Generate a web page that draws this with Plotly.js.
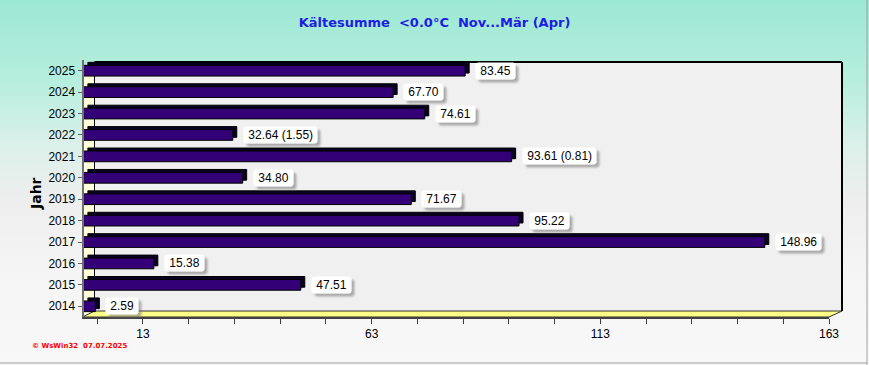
<!DOCTYPE html>
<html>
<head>
<meta charset="utf-8">
<script src="https://cdn.plot.ly/plotly-3.0.1.min.js"></script>
<style>
  html, body { margin: 0; padding: 0; }
  #chart {
    width: 869px; height: 365px;
    background: linear-gradient(to bottom, #9ce8d3 0%, #b6eedd 22%, #dcf0ea 40%, #eeeeee 55%, #f5f5f5 75%, #f8f8f8 100%);
  }
</style>
</head>
<body>
<div id="chart"></div>
<script>
// ---- data ----
const years = ['2014','2015','2016','2017','2018','2019','2020','2021','2022','2023','2024','2025'];
const values = [2.59, 47.51, 15.38, 148.96, 95.22, 71.67, 34.80, 93.61, 32.64, 74.61, 67.70, 83.45];
const valueLabels = ['2.59','47.51','15.38','148.96','95.22','71.67','34.80','93.61 (0.81)','32.64 (1.55)','74.61','67.70','83.45'];
const xTickVals = [3,13,23,33,43,53,63,73,83,93,103,113,123,133,143,153,163];
const xTickText = ['','13','','','','','63','','','','','113','','','','','163'];
const gridVals = [13,63,113];
const chartTitle = 'Kältesumme\u00a0\u00a0<0.0°C\u00a0\u00a0Nov...Mär (Apr)';
const yTitle = 'Jahr';
const footer = '© WsWin32\u00a0\u00a007.07.2025';

// ---- geometry (pixels) ----
const W = 869, H = 365;
const px = x => x / W, py = y => 1 - y / H;
const FX0 = 83.5, FX1 = 829, FY0 = 60, FY1 = 317;   // front plane
const BX0 = 94.5, BX1 = 842, BY0 = 62, BY1 = 311;   // back wall
const DX = 4, DY = 3;                               // bar depth
const xMax = 163;
const pxPerUnit = (FX1 - FX0) / xMax;
const pxPerCat = (FY1 - FY0) / years.length;
const catIdx = years.map((_, i) => i);

const barWidth = 0.5;
const purple = '#330078';

const traces = [
  { // depth (dark block behind face)
    type: 'bar', orientation: 'h', x: values, y: catIdx, width: barWidth,
    xaxis: 'x2', yaxis: 'y2',
    marker: { color: '#0a0020', line: { color: '#000', width: 1 } },
    hoverinfo: 'skip', showlegend: false
  },
  { // front face
    type: 'bar', orientation: 'h', x: values, y: years, width: barWidth,
    xaxis: 'x3', yaxis: 'y3',
    marker: { color: purple, line: { color: '#000', width: 1 } },
    hoverinfo: 'skip', showlegend: false
  }
];

const annotations = [];
values.forEach((v, i) => {
  annotations.push({
    xref: 'x3', yref: 'y3', x: v, y: catIdx[i], xanchor: 'left', yanchor: 'middle',
    xshift: 10, text: '\u00a0' + valueLabels[i] + '\u00a0', showarrow: false,
    font: { family: 'Liberation Sans, Arial, sans-serif', size: 12, color: '#000000' },
    bgcolor: '#ffffff', borderpad: 1
  });
});
annotations.push({
  xref: 'paper', yref: 'paper', x: px(36), y: py(194), xanchor: 'center', yanchor: 'middle',
  text: yTitle, textangle: -90, showarrow: false,
  font: { family: 'DejaVu Sans, sans-serif', size: 14, color: '#000', weight: 'bold' }
});
annotations.push({
  xref: 'paper', yref: 'paper', x: px(30), y: py(346), xanchor: 'left', yanchor: 'middle',
  text: footer, showarrow: false,
  font: { family: 'DejaVu Sans, sans-serif', size: 7, color: '#ff0000', weight: 'bold' }
});

const shapes = [
  // back wall
  { type: 'rect', xref: 'paper', yref: 'paper', layer: 'below',
    x0: px(BX0), x1: px(BX1), y0: py(BY1), y1: py(BY0),
    fillcolor: '#f0f0f0', line: { width: 0 } },
  // left wall
  { type: 'path', xref: 'paper', yref: 'paper', layer: 'below',
    path: `M ${px(FX0-1)} ${py(FY0+8)} L ${px(BX0)} ${py(BY0)} L ${px(BX0)} ${py(BY1)} L ${px(FX0-1)} ${py(FY1)} Z`,
    fillcolor: '#ffffdc', line: { width: 0 } },
  // floor
  { type: 'path', xref: 'paper', yref: 'paper', layer: 'below',
    path: `M ${px(FX0-1)} ${py(FY1)} L ${px(BX0)} ${py(BY1)} L ${px(BX1)} ${py(BY1)} L ${px(FX1)} ${py(FY1)} Z`,
    fillcolor: '#ffff88', line: { color: '#333', width: 1 } },
  // back wall edges
  { type: 'line', xref: 'paper', yref: 'paper', layer: 'below',
    x0: px(BX0), x1: px(BX1), y0: py(BY0), y1: py(BY0), line: { color: '#000', width: 2 } },
  { type: 'line', xref: 'paper', yref: 'paper', layer: 'below',
    x0: px(BX1), x1: px(BX1), y0: py(BY0), y1: py(BY1), line: { color: '#000', width: 2 } },
  { type: 'line', xref: 'paper', yref: 'paper', layer: 'below',
    x0: px(BX0), x1: px(BX0), y0: py(BY0), y1: py(BY1), line: { color: '#000', width: 1 } },
  // image border
  { type: 'line', xref: 'paper', yref: 'paper', x0: px(867), x1: px(867), y0: 0, y1: 1,
    line: { color: '#a0a0a0', width: 1 } },
  { type: 'line', xref: 'paper', yref: 'paper', x0: 0, x1: px(867), y0: py(363), y1: py(363),
    line: { color: '#a0a0a0', width: 1 } }
];

const hidden = { showgrid: false, zeroline: false, showline: false, showticklabels: false, ticks: '', fixedrange: true };

const layout = {
  width: W, height: H,
  margin: { l: 0, r: 0, t: 0, b: 0 },
  paper_bgcolor: 'rgba(0,0,0,0)', plot_bgcolor: 'rgba(0,0,0,0)',
  showlegend: false, bargap: 0,
  title: {
    text: chartTitle, x: 0.5, xanchor: 'center', y: py(22), yanchor: 'middle', xref: 'paper', yref: 'paper',
    font: { family: 'DejaVu Sans, sans-serif', size: 13, color: '#1e1ee0', weight: 'bold' }
  },
  // back wall grid
  xaxis: { domain: [px(BX0), px(BX1)], range: [0, (BX1 - BX0) / pxPerUnit], anchor: 'y',
    showgrid: true, gridcolor: '#a8a8a8', griddash: '4px,3px', gridwidth: 1, tickvals: gridVals,
    zeroline: false, showline: false, showticklabels: false, ticks: '', fixedrange: true },
  yaxis: { domain: [py(BY1), py(BY0)], range: [-0.5, -0.5 + (BY1 - BY0) / pxPerCat], anchor: 'x',
    showgrid: true, gridcolor: '#a8a8a8', griddash: '4px,3px', gridwidth: 1, tick0: 0, dtick: 1,
    zeroline: false, showline: false, showticklabels: false, ticks: '', fixedrange: true },
  // depth bars
  xaxis2: Object.assign({ domain: [px(FX0 + DX), px(FX1 + DX)], range: [0, xMax], anchor: 'y2' }, hidden),
  yaxis2: Object.assign({ domain: [py(FY1 - DY), py(FY0 - DY)], range: [-0.5, years.length - 0.5], anchor: 'x2' }, hidden),
  // front
  xaxis3: { domain: [px(FX0), px(FX1)], range: [0, xMax], anchor: 'y3',
    showgrid: false, zeroline: false, showline: true, linecolor: '#404040', linewidth: 2,
    ticks: 'outside', ticklen: 5, tickcolor: '#404040', tickwidth: 1,
    tickvals: xTickVals, ticktext: xTickText,
    tickfont: { family: 'Liberation Sans, Arial, sans-serif', size: 12, color: '#000' }, fixedrange: true },
  yaxis3: { domain: [py(FY1), py(FY0)], type: 'category', categoryorder: 'array', categoryarray: years,
    range: [-0.5, years.length - 0.5], anchor: 'x3',
    showgrid: false, zeroline: false, showline: true, linecolor: '#707070', linewidth: 2,
    ticks: 'outside', ticklen: 4, tickcolor: '#606060', tickwidth: 1,
    tickfont: { family: 'Liberation Sans, Arial, sans-serif', size: 12, color: '#000' }, fixedrange: true },
  annotations: annotations,
  shapes: shapes
};

Plotly.newPlot('chart', traces, layout, { displayModeBar: false, staticPlot: true }).then(gd => {
  // soft drop shadow + rounded corners for the value label boxes
  const svgs = gd.querySelectorAll('svg.main-svg');
  const svgNS = 'http://www.w3.org/2000/svg';
  const defs = document.createElementNS(svgNS, 'defs');
  const filt = document.createElementNS(svgNS, 'filter');
  filt.setAttribute('id', 'lblshadow');
  filt.setAttribute('x', '-20%'); filt.setAttribute('y', '-40%');
  filt.setAttribute('width', '150%'); filt.setAttribute('height', '200%');
  const fe = document.createElementNS(svgNS, 'feDropShadow');
  fe.setAttribute('dx', '3'); fe.setAttribute('dy', '3'); fe.setAttribute('stdDeviation', '1.2');
  fe.setAttribute('flood-color', '#707070'); fe.setAttribute('flood-opacity', '0.55');
  filt.appendChild(fe); defs.appendChild(filt);
  svgs[0].appendChild(defs);
  gd.querySelectorAll('.annotation').forEach((g, i) => {
    if (i >= values.length) return;
    const r = g.querySelector('rect.bg');
    if (r) { r.setAttribute('rx', '3'); r.setAttribute('ry', '3'); r.setAttribute('filter', 'url(#lblshadow)'); }
  });
});
</script>
</body>
</html>
